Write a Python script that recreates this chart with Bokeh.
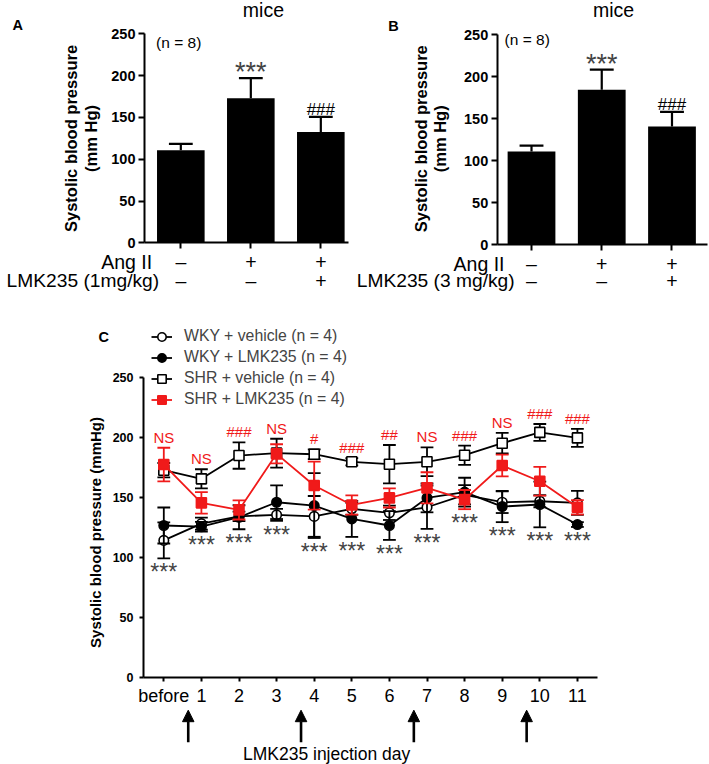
import numpy as np
from bokeh.plotting import figure
from bokeh.models import FixedTicker, Arrow, NormalHead, Legend, LegendItem
from bokeh.layouts import column, row
from bokeh.embed import file_html
from bokeh.resources import INLINE
from bokeh.core.properties import value

# ---------------- data ----------------
# Panels A / B : Ang II-infused mice
group_x = [0, 1, 2]
ang_ii_signs = ["–", "+", "+"]
lmk_signs = ["–", "–", "+"]
sbp_1mg = [110.8, 173.0, 132.4]
sem_1mg = [7.6, 24.0, 18.3]
sbp_3mg = [111.1, 184.5, 140.9]
sem_3mg = [7.0, 24.0, 17.4]
bar_marks = ["", "***", "###"]
bp_ticks = [0, 50, 100, 150, 200, 250]

# Panel C : WKY / SHR time course
days = ["before", "1", "2", "3", "4", "5", "6", "7", "8", "9", "10", "11"]
wky_vehicle = [114.0, 128.0, 134.0, 135.3, 134.0, 140.3, 137.0, 141.6, 152.0, 145.8, 146.6, 145.3]
wky_vehicle_sem = [15, 5, 4, 5, 17, 5, 6, 18, 8, 9, 5, 10]
wky_lmk = [126.4, 125.4, 133.3, 145.8, 143.0, 131.9, 126.4, 149.4, 154.2, 142.2, 143.9, 127.2]
wky_lmk_sem = [15, 4, 10, 14, 27, 15, 12, 12, 12, 13, 19, 2]
shr_vehicle = [172.5, 165.3, 184.7, 186.7, 185.8, 179.5, 177.5, 179.5, 185.0, 195.0, 204.0, 199.4]
shr_vehicle_sem = [6, 8, 11, 12, 4, 3, 16, 12, 8, 8.6, 7, 7.5]
shr_lmk = [177.2, 145.3, 139.4, 186.1, 159.7, 143.5, 149.4, 157.8, 148.0, 176.4, 163.3, 141.6]
shr_lmk_sem = [14, 9, 8, 8, 20, 8, 8, 13, 8, 9, 12, 6]
shr_marks = ["NS", "NS", "###", "NS", "#", "###", "##", "NS", "###", "NS", "###", "###"]
wky_marks = ["***"] * 12
injection_days = ["1", "4", "7", "10"]

# ---------------- styling helpers ----------------
S = 1.0
FONT = "Liberation Sans"
RED = "#f01a1a"


def fs(v):
    return f"{v * S:.2f}px"


def ip(v):
    return int(round(v * S))


def txt(p, x, y, t, size, color="black", bold=False, align="center",
        baseline="middle", angle=0.0, yoff=0.0, font=FONT):
    p.text(x=x, y=y, text=t, text_font=value(font), text_font_size=value(fs(size)),
           text_color=color, text_font_style="bold" if bold else "normal",
           text_align=align, text_baseline=baseline, angle=angle,
           y_offset=yoff * S)


def base_fig(w_ref, h_ref, xr, yr):
    p = figure(width=round(w_ref * S), height=round(h_ref * S), x_range=xr, y_range=yr,
               output_backend="svg", toolbar_location=None,
               min_border=0, min_border_left=0, min_border_right=0,
               min_border_top=0, min_border_bottom=0)
    p.outline_line_color = None
    p.grid.visible = False
    p.background_fill_color = "white"
    return p


def style_axes(p, yaxis_x, x_bounds, x_ticks, ylab_size, xlab_size, ystandoff, xstandoff,
               ytick, xtick):
    ya = p.yaxis[0]
    ya.fixed_location = yaxis_x
    ya.bounds = (0, 250)
    ya.ticker = FixedTicker(ticks=bp_ticks)
    ya.major_tick_out = ip(ytick)
    ya.major_tick_in = 0
    ya.minor_tick_out = 0
    ya.minor_tick_in = 0
    ya.axis_line_width = 2 * S
    ya.major_tick_line_width = 2 * S
    ya.major_label_text_font = FONT
    ya.major_label_text_font_style = "bold"
    ya.major_label_text_font_size = fs(ylab_size)
    ya.major_label_standoff = ip(ystandoff)
    ya.major_label_text_color = "black"

    xa = p.xaxis[0]
    xa.fixed_location = 0
    xa.bounds = x_bounds
    xa.ticker = FixedTicker(ticks=x_ticks)
    xa.major_tick_out = ip(xtick)
    xa.major_tick_in = 0
    xa.minor_tick_out = 0
    xa.minor_tick_in = 0
    xa.axis_line_width = 2 * S
    xa.major_tick_line_width = 2 * S
    xa.major_label_text_font = FONT
    xa.major_label_text_font_size = fs(xlab_size)
    xa.major_label_standoff = ip(xstandoff)
    xa.major_label_text_color = "black"


# ---------------- bar panels ----------------
def bar_panel(vals, sems, cfg):
    p = base_fig(cfg["w"], 300, cfg["xr"], cfg["yr"])
    style_axes(p, cfg["yaxis_x"], (cfg["yaxis_x"], cfg["x_end"]), group_x,
               14.5, 19.5, 3, 2, 6, 6)
    # first row of the treatment table (Ang II) doubles as the x tick labels
    p.xaxis[0].major_label_overrides = {g: s for g, s in zip(group_x, ang_ii_signs)}
    x = np.array(group_x, dtype=float)
    v = np.array(vals)
    e = np.array(sems)
    top = v + e
    p.vbar(x=x, top=v, bottom=0, width=0.68, fill_color="black", line_color=None)
    p.segment(x0=x, y0=v, x1=x, y1=top, line_color="black", line_width=2.2 * S)
    p.segment(x0=x - 0.17, y0=top, x1=x + 0.17, y1=top, line_color="black", line_width=2.2 * S)
    for i, m in enumerate(bar_marks):
        if m.startswith("*"):
            txt(p, [x[i]], [top[i]], [m], 27, color="#444444", baseline="alphabetic", yoff=-5.7)
        elif m:
            txt(p, [x[i]], [top[i]], [m], 17, baseline="alphabetic", yoff=-7.5)
    txt(p, [cfg["mice"][0]], [cfg["mice"][1]], ["mice"], 19.5)
    txt(p, [cfg["letter"][0]], [cfg["letter"][1]], [cfg["letter"][2]], 14.5, bold=True)
    txt(p, [cfg["n"][0]], [cfg["n"][1]], ["(n = 8)"], 15.5)
    txt(p, [cfg["ylab_x"][0]], [cfg["ylab_y"]], ["Systolic blood pressure"], 16.5,
        bold=True, angle=np.pi / 2)
    txt(p, [cfg["ylab_x"][1]], [cfg["ylab_y"]], ["(mm Hg)"], 16.5, bold=True, angle=np.pi / 2)
    txt(p, [cfg["row_x"][0]], [cfg["row_y"][0]], ["Ang II"], 19.5, align="right")
    txt(p, [cfg["row_x"][1]], [cfg["row_y"][1]], [cfg["lmk_label"]], 19.2, align="right")
    txt(p, x, [cfg["row_y"][1]] * 3, lmk_signs, 19.5)
    return p


cfgA = dict(w=350, xr=(-2.576, 2.424), yr=(-69.0, 289.8), yaxis_x=-0.519, x_end=2.40,
            mice=(1.18, 277.9), letter=(-2.33, 260.0, "A"), n=(-0.03, 240.0),
            ylab_x=(-1.576, -1.29), ylab_y=124.8, row_x=(-0.41, -0.31),
            row_y=(-23.2, -45.1), lmk_label="LMK235 (1mg/kg)")
cfgB = dict(w=359, xr=(-2.577, 2.534), yr=(-66.3, 290.8), yaxis_x=-0.488, x_end=2.5,
            mice=(1.167, 278.9), letter=(-1.964, 261.0, "B"), n=(-0.061, 244.0),
            ylab_x=(-1.58, -1.30), ylab_y=126.2, row_x=(-0.384, -0.24),
            row_y=(-22.6, -43.0), lmk_label="LMK235 (3 mg/kg)")

pA = bar_panel(sbp_1mg, sem_1mg, cfgA)
pB = bar_panel(sbp_3mg, sem_3mg, cfgB)

# ---------------- panel C ----------------
pC = base_fig(709, 464, (-4.343, 14.513), (-72.75, 313.9))
xd = np.arange(len(days), dtype=float)
style_axes(pC, -0.54, (-0.54, 11.53), list(range(len(days))), 12.5, 18, 6.5, 5, 4, 4)
pC.xaxis[0].major_label_overrides = {i: d for i, d in enumerate(days)}

series = [
    ("WKY + vehicle (n = 4)", wky_vehicle, wky_vehicle_sem, "circle", "white", "black", 9.5),
    ("WKY + LMK235 (n = 4)", wky_lmk, wky_lmk_sem, "circle", "black", "black", 9.5),
    ("SHR + vehicle (n = 4)", shr_vehicle, shr_vehicle_sem, "square", "white", "black", 10),
    ("SHR + LMK235 (n = 4)", shr_lmk, shr_lmk_sem, "square", RED, RED, 10),
]
items = []
tops_all = []
bots_all = []
for label, vals, sems, marker, fill, col, size in series:
    v = np.array(vals)
    e = np.array(sems)
    tops_all.append(v + e)
    bots_all.append(v - e)
    pC.segment(x0=xd, y0=v - e, x1=xd, y1=v + e, line_color=col, line_width=1.8 * S)
    pC.segment(x0=xd - 0.17, y0=v + e, x1=xd + 0.17, y1=v + e, line_color=col, line_width=1.8 * S)
    pC.segment(x0=xd - 0.17, y0=v - e, x1=xd + 0.17, y1=v - e, line_color=col, line_width=1.8 * S)
    lr = pC.line(x=xd, y=v, line_color=col, line_width=1.8 * S)
    sr = pC.scatter(x=xd, y=v, marker=marker, size=size * S, fill_color=fill,
                    line_color=col, line_width=1.6 * S)
    items.append(LegendItem(label=label, renderers=[lr, sr]))

top_max = np.max(np.vstack(tops_all), axis=0)
bot_min = np.min(np.vstack(bots_all), axis=0)
txt(pC, xd, top_max, shr_marks, 15, color=RED, baseline="alphabetic", yoff=-10.5)
txt(pC, xd, bot_min, wky_marks, 23, color="#444444", baseline="alphabetic", yoff=13.9)

legend = Legend(items=items, location=(151 * S, 354.5 * S), orientation="vertical",
                padding=0, margin=0, spacing=0, glyph_width=ip(21),
                glyph_height=ip(21), label_height=ip(21),
                label_standoff=ip(12), label_text_font=FONT,
                label_text_font_size=fs(15.8), background_fill_alpha=0,
                border_line_color=None)
pC.add_layout(legend)

txt(pC, [-1.596], [283.3], ["C"], 14.5, bold=True)
txt(pC, [-1.82], [120.6], ["Systolic blood pressure (mmHg)"], 15, bold=True, angle=np.pi / 2)
txt(pC, [4.33], [-64.4], ["LMK235 injection day"], 17.5)

for d in injection_days:
    xi = days.index(d) - 0.35
    pC.add_layout(Arrow(x_start=xi, y_start=-54.2, x_end=xi, y_end=-27.5,
                        line_color="black", line_width=2.6 * S,
                        end=NormalHead(size=11.5 * S, fill_color="black",
                                       line_color="black", line_width=1)))

layout = column(row(pA, pB, spacing=0), pC, spacing=0)
open("out.html", "w").write(file_html(layout, INLINE))
